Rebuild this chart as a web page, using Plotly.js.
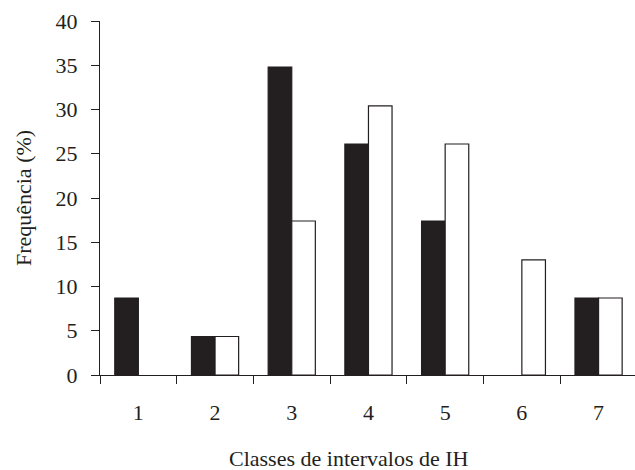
<!DOCTYPE html>
<html>
<head>
<meta charset="utf-8">
<script src="https://cdn.plot.ly/plotly-3.0.1.min.js"></script>
<style>html,body{margin:0;padding:0;background:#fff;overflow:hidden}</style>
</head>
<body>
<div id="chart" style="width:635px;height:470px"></div>
<script>
const categories = ["1", "2", "3", "4", "5", "6", "7"];
const seriesBlack = [8.7, 4.35, 34.8, 26.1, 17.4, 0, 8.7];
const seriesWhite = [0, 4.35, 17.4, 30.4, 26.1, 13.0, 8.7];
const yTicks = [0, 5, 10, 15, 20, 25, 30, 35, 40];

const ink = "#231f20";
const fam = "Liberation Serif, Times New Roman, serif";

function lineWidths(vals) { return vals.map(v => v > 0 ? 1.2 : 0); }

const traces = [
  {type: "bar", x: categories, y: seriesBlack, name: "A",
   marker: {color: ink, line: {color: ink, width: lineWidths(seriesBlack)}}},
  {type: "bar", x: categories, y: seriesWhite, name: "B",
   marker: {color: "#ffffff", line: {color: ink, width: lineWidths(seriesWhite)}}}
];

const layout = {
  width: 635, height: 470,
  margin: {l: 100, r: 0, t: 21, b: 95},
  paper_bgcolor: "#fff", plot_bgcolor: "#fff",
  showlegend: false,
  barmode: "group", bargap: 0.385, bargroupgap: 0,
  font: {family: fam, color: ink},
  xaxis: {
    type: "category", range: [-0.5, 6.475],
    tickson: "boundaries", ticks: "outside", ticklen: 8, tickcolor: ink, tickwidth: 1,
    showline: true, linecolor: ink, linewidth: 1, showgrid: false, zeroline: false,
    ticklabelstandoff: 18,
    tickfont: {family: fam, size: 22, color: ink}
  },
  yaxis: {
    range: [0, 40], tickvals: yTicks, ticktext: yTicks.map(String),
    ticks: "outside", ticklen: 8, tickcolor: ink, tickwidth: 1,
    showline: true, linecolor: ink, linewidth: 1, showgrid: false, zeroline: false,
    ticklabelstandoff: 9,
    tickfont: {family: fam, size: 22, color: ink},
    title: {text: "Frequência (%)", font: {family: fam, size: 22, color: ink}, standoff: 17}
  },
  annotations: [{
    text: "Classes de intervalos de IH", showarrow: false,
    xref: "paper", yref: "paper", x: 0.4645, y: -0.235,
    xanchor: "center", yanchor: "middle",
    font: {family: fam, size: 22, color: ink}
  }]
};

Plotly.newPlot("chart", traces, layout, {displayModeBar: false, staticPlot: true});
</script>
</body>
</html>
